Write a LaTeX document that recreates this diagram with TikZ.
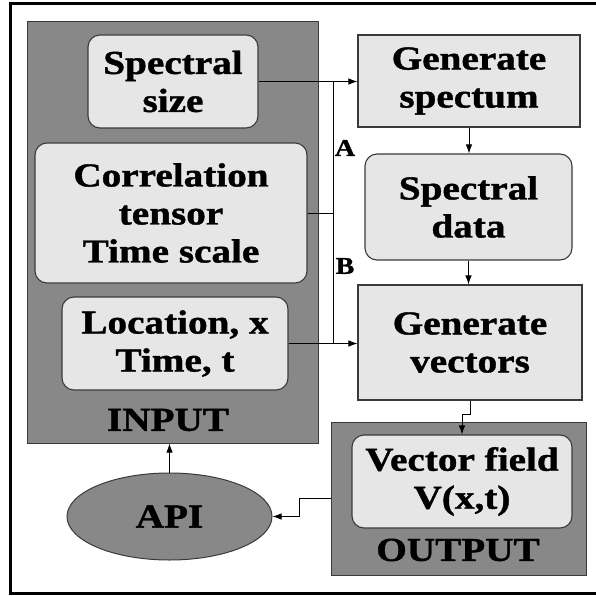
\documentclass[tikz,border=0pt]{standalone}
\usepackage{fontspec}
\newfontfamily\lblfont{Liberation Serif Bold}[FakeStretch=1.17, FakeBold=1.2]
\usetikzlibrary{arrows.meta,shapes.geometric}
\definecolor{panelgray}{HTML}{888888}
\definecolor{boxgray}{HTML}{E6E6E6}
\definecolor{edgegray}{HTML}{3A3A3A}
\tikzset{
  txt/.style={font=\lblfont\fontsize{33.5}{38}\selectfont, align=center, text=black, inner sep=0pt},
  panel/.style={draw=edgegray, line width=1pt, fill=panelgray, inner sep=0pt},
  roundbox/.style={txt, draw=edgegray, line width=1.1pt, fill=boxgray, rounded corners=12pt},
  sharpbox/.style={txt, draw=edgegray, line width=1.1pt, fill=boxgray},
  conn/.style={draw=black, line width=0.9pt},
  arr/.style={conn, -{Latex[length=9pt,width=6.5pt]}},
  smalllbl/.style={font=\lblfont\fontsize{24}{26}\selectfont, inner sep=0pt}
}
\begin{document}
\begin{tikzpicture}[x=1pt, y=-1pt]
  \useasboundingbox (0,0) rectangle (595,596);
  % outer frame (right side runs off the page)
  \draw[line width=3pt] (600,4) -- (10.5,4) -- (10.5,593.5) -- (600,593.5);

  % input group
  \node[panel, minimum width=291pt, minimum height=421pt] (inpanel) at (172.5,232.5) {};
  \node[roundbox, minimum width=170pt, minimum height=93pt] (ssize) at (173,81.5) {Spectral\\size};
  \node[roundbox, minimum width=272pt, minimum height=140pt] (corr) at (171,213) {Correlation\\tensor\\Time scale};
  \node[roundbox, minimum width=226pt, minimum height=93pt] (loc) at (175,343.5) {Location, x\\Time, t};
  \node[txt] (inlbl) at (168,420) {INPUT};

  % API
  \node[panel, ellipse, minimum width=205pt, minimum height=87pt, txt, draw=edgegray, line width=1pt] (api) at (169.5,516.5) {API};

  % processing chain
  \node[sharpbox, minimum width=222pt, minimum height=92pt] (gspec) at (469,81) {Generate\\spectum};
  \node[roundbox, minimum width=207pt, minimum height=106pt] (sdata) at (468.5,207) {Spectral\\data};
  \node[sharpbox, minimum width=224pt, minimum height=115pt] (gvec) at (470,342.5) {Generate\\vectors};

  % output group
  \node[panel, minimum width=255pt, minimum height=153pt] (outpanel) at (458.5,498.5) {};
  \node[roundbox, minimum width=220pt, minimum height=93pt] (vfield) at (462,481.5) {Vector field\\V(x,t)};
  \node[txt] (outlbl) at (458,550) {OUTPUT};

  % path labels
  \node[smalllbl] (la) at (345,148) {A};
  \node[smalllbl] (lb) at (345,266) {B};

  % bus joining the inputs
  \coordinate (jtop) at (333,81);
  \coordinate (jbot) at (333,343.5);
  \draw[arr] (ssize.east) -- (ssize.east -| gspec.west);
  \draw[conn] (jtop) -- (jbot);
  \draw[conn] (corr.east) -- (corr.east -| jtop);
  \draw[arr] (loc.east) -- (loc.east -| gvec.west);

  % chain arrows
  \draw[arr] (gspec.south) -- (gspec.south |- sdata.north);
  \draw[arr] (sdata.south) -- (sdata.south |- gvec.north);
  \draw[arr] (gvec.south) -- ++(0,14) -| (vfield.north);

  % feedback to API and into the input group
  \draw[arr] (outpanel.west) -- ++(-31,0) |- (api.east);
  \draw[arr] (api.north) -- (api.north |- inpanel.south);
\end{tikzpicture}
\end{document}
